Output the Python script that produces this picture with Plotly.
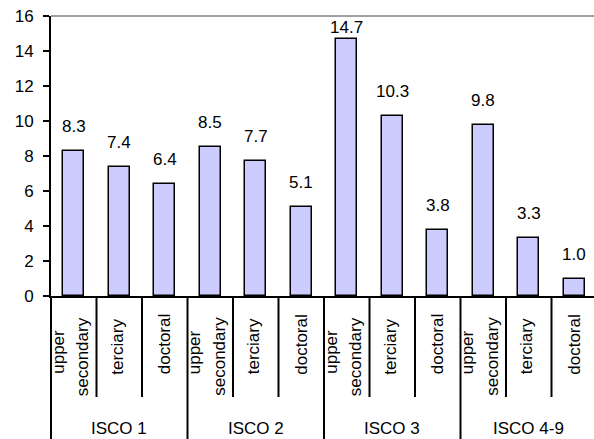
import plotly.graph_objects as go

# Data: share (%) by occupation group and education level
groups = ["ISCO 1", "ISCO 2", "ISCO 3", "ISCO 4-9"]
levels = ["upper secondary", "terciary", "doctoral"]
values = [8.3, 7.4, 6.4,
          8.5, 7.7, 5.1,
          14.7, 10.3, 3.8,
          9.8, 3.3, 1.0]
value_labels = ["8.3", "7.4", "6.4",
                "8.5", "7.7", "5.1",
                "14.7", "10.3", "3.8",
                "9.8", "3.3", "1.0"]
y_ticks = [0, 2, 4, 6, 8, 10, 12, 14, 16]

W, H = 594, 439
ML, MR, MT, MB = 51, 0, 16, 143
CAT_PX = 45.5                      # width of one category slot in pixels
plot_w = W - ML - MR
plot_h = H - MT - MB
x0 = -0.5
x1 = x0 + plot_w / CAT_PX
y_max = 16

FONT = dict(family="Liberation Sans, Arial, sans-serif", size=17, color="black")

n = len(values)
xpos = list(range(n))

fig = go.Figure()
fig.add_trace(go.Bar(
    x=xpos, y=values, width=0.46,
    marker=dict(color="#CCCCFF", line=dict(color="black", width=1.5)),
    hoverinfo="skip",
))


def px_to_paper_y(py):
    """Pixel row (from top of page) -> paper y coordinate."""
    return (MT + plot_h - py) / plot_h


def xdata_to_paper(xv):
    return (xv - x0) / (x1 - x0)


annotations = []
# value labels above bars (kept inside the plot area at the top)
px_per_unit = plot_h / y_max
label_units = (18 + 20) / px_per_unit
for i, (v, lab) in enumerate(zip(values, value_labels)):
    if v + label_units > y_max:
        annotations.append(dict(x=i, y=y_max, xref="x", yref="y", text=lab,
                                showarrow=False, yanchor="top", xanchor="center",
                                font=FONT))
    else:
        annotations.append(dict(x=i, y=v, xref="x", yref="y", text=lab,
                                showarrow=False, yanchor="bottom", xanchor="center",
                                yshift=13, font=FONT))

# rotated category labels
for gi, g in enumerate(groups):
    for li, lev in enumerate(levels):
        i = gi * 3 + li
        if lev == "upper secondary":
            annotations.append(dict(x=i, y=px_to_paper_y(352), xref="x", yref="paper",
                                    text="upper", textangle=-90, showarrow=False,
                                    xanchor="center", yanchor="middle", xshift=-16,
                                    font=FONT))
            annotations.append(dict(x=i, y=px_to_paper_y(356.5), xref="x", yref="paper",
                                    text="secondary", textangle=-90, showarrow=False,
                                    xanchor="center", yanchor="middle", xshift=9,
                                    font=FONT))
        elif lev == "terciary":
            annotations.append(dict(x=i, y=px_to_paper_y(346.5), xref="x", yref="paper",
                                    text=lev, textangle=-90, showarrow=False,
                                    xanchor="center", yanchor="middle", xshift=-2,
                                    font=FONT))
        else:
            annotations.append(dict(x=i, y=px_to_paper_y(344.5), xref="x", yref="paper",
                                    text=lev, textangle=-90, showarrow=False,
                                    xanchor="center", yanchor="middle", xshift=0,
                                    font=FONT))
    # group label
    annotations.append(dict(x=gi * 3 + 1, y=px_to_paper_y(428), xref="x", yref="paper",
                            text=g, showarrow=False, xanchor="center", yanchor="middle",
                            font=FONT))

shapes = []
bottom_paper = px_to_paper_y(H + 2)
sub_paper = px_to_paper_y(397)
for b in range(n):
    edge = b - 0.5
    xp = xdata_to_paper(edge)
    if b % 3 == 0:
        shapes.append(dict(type="line", xref="paper", yref="paper",
                           x0=xp, x1=xp, y0=0, y1=bottom_paper,
                           line=dict(color="black", width=2)))
    else:
        shapes.append(dict(type="line", xref="paper", yref="paper",
                           x0=xp, x1=xp, y0=0, y1=sub_paper,
                           line=dict(color="black", width=2)))
# plot-area top border
shapes.append(dict(type="line", xref="paper", yref="paper", x0=0, x1=1.01, y0=1, y1=1,
                   line=dict(color="#808080", width=1.5)))

fig.update_layout(
    width=W, height=H,
    margin=dict(l=ML, r=MR, t=MT, b=MB, pad=0),
    paper_bgcolor="white", plot_bgcolor="white",
    showlegend=False,
    font=FONT,
    annotations=annotations,
    shapes=shapes,
    bargap=0,
)
fig.update_xaxes(range=[x0, x1], showticklabels=False, ticks="", showgrid=False,
                 zeroline=False, showline=True, linecolor="black", linewidth=2,
                 fixedrange=True)
fig.update_yaxes(range=[0, y_max], tickvals=y_ticks, ticks="outside", ticklen=6,
                 tickwidth=1.5, tickcolor="black", showgrid=False, zeroline=False,
                 showline=True, linecolor="black", linewidth=2,
                 ticklabelstandoff=6, tickfont=FONT, fixedrange=True)

fig.write_html("out.html")
